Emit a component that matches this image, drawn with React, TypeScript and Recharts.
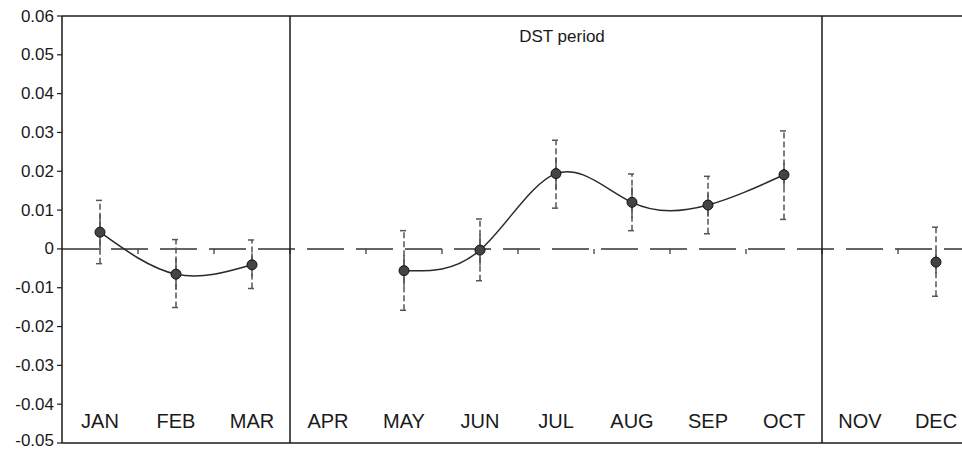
import {
  ErrorBar,
  Line,
  LineChart,
  ReferenceArea,
  ReferenceLine,
  XAxis,
  YAxis,
} from "recharts";

const months = ["JAN", "FEB", "MAR", "APR", "MAY", "JUN", "JUL", "AUG", "SEP", "OCT", "NOV", "DEC"];
const meanValues = [0.0043, -0.0065, -0.0041, null, -0.0056, -0.0003, 0.0194, 0.012, 0.0113, 0.0191, null, -0.0034];
const upperValues = [0.0125, 0.0024, 0.0023, null, 0.0047, 0.0077, 0.028, 0.0193, 0.0187, 0.0304, null, 0.0056];
const lowerValues = [-0.0038, -0.0151, -0.0102, null, -0.0158, -0.0082, 0.0105, 0.0047, 0.0039, 0.0076, null, -0.0122];
const innerError = [0.0045, 0.004, 0.003, null, 0.004, 0.004, 0.004, 0.004, 0.003, 0.003, null, 0.003];
const yTicks = [-0.05, -0.04, -0.03, -0.02, -0.01, 0, 0.01, 0.02, 0.03, 0.04, 0.05, 0.06];
const monthTicks = [0.5, 1.5, 2.5, 3.5, 4.5, 5.5, 6.5, 7.5, 8.5, 9.5, 10.5, 11.5];
const boundaryTicks = [1, 2, 3, 4, 5, 6, 7, 8, 9, 10, 11];
const dividers = [3, 10];

const data = months.map((m, i) => {
  const mean = meanValues[i];
  return {
    x: monthTicks[i],
    month: m,
    mean,
    ci: mean == null ? null : [mean - (lowerValues[i] as number), (upperValues[i] as number) - mean],
    se: innerError[i],
  };
});

const font = "'Liberation Sans', Arial, sans-serif";
const ink = "#1a1a1a";

// y tick labels; the lowest one is nudged up so it stays inside the picture
function YTick(props: any) {
  const { x, y, payload } = props;
  const v = payload.value as number;
  const label = v === 0 ? "0" : v.toFixed(2);
  const shift = v <= -0.05 ? -3 : 0;
  return (
    <text x={x} y={y + shift} textAnchor="end" dominantBaseline="central" fill={ink} fontSize={17} fontFamily={font}>
      {label}
    </text>
  );
}

export default function App() {
  return (
    <div style={{ position: "absolute", left: 0, top: 0, width: 962, height: 450, overflow: "hidden", background: "#fff" }}>
      <LineChart width={980} height={450} data={data} margin={{ top: 16, right: 6, bottom: 7, left: 0 }}>
        <XAxis
          dataKey="x"
          type="number"
          domain={[0, 12]}
          ticks={monthTicks}
          tickFormatter={(v: number) => months[Math.floor(v)]}
          mirror
          height={1}
          tickLine={false}
          tickMargin={9}
          tick={{ fill: ink, fontSize: 20, fontFamily: font }}
          axisLine={{ stroke: ink, strokeWidth: 1.5 }}
        />
        <YAxis
          type="number"
          domain={[-0.05, 0.06]}
          ticks={yTicks}
          width={62}
          tickSize={5}
          tickMargin={3}
          interval={0}
          tick={<YTick />}
          tickLine={{ stroke: ink, strokeWidth: 1.2 }}
          axisLine={{ stroke: ink, strokeWidth: 1.5 }}
        />
        <ReferenceArea
          x1={3}
          x2={10}
          y1={-0.05}
          y2={0.06}
          fill="#fff"
          fillOpacity={0}
          stroke="none"
          label={{ value: "DST period", position: "insideTop", offset: 14, dx: 6, fill: ink, fontSize: 17, fontFamily: font }}
        />
        <ReferenceLine y={0.06} stroke={ink} strokeWidth={1.5} />
        <ReferenceLine y={0} stroke="#333" strokeWidth={1.5} strokeDasharray="37 12" />
        {boundaryTicks.map((t) => (
          <ReferenceLine
            key={t}
            segment={[{ x: t, y: 0 }, { x: t, y: -0.0013 }]}
            stroke="#333"
            strokeWidth={1.2}
          />
        ))}
        {dividers.map((d) => (
          <ReferenceLine key={d} x={d} stroke={ink} strokeWidth={1.5} />
        ))}
        <Line
          dataKey="mean"
          type="natural"
          stroke="#2a2a2a"
          strokeWidth={1.5}
          connectNulls={false}
          isAnimationActive={false}
          dot={{ r: 5, fill: "#444", stroke: "#111", strokeWidth: 1 }}
        >
          <ErrorBar dataKey="ci" direction="y" width={4} stroke="#555" strokeWidth={1.5} strokeDasharray="6 3" />
          <ErrorBar dataKey="se" direction="y" width={0} stroke="#555" strokeWidth={1.5} />
        </Line>
      </LineChart>
    </div>
  );
}
